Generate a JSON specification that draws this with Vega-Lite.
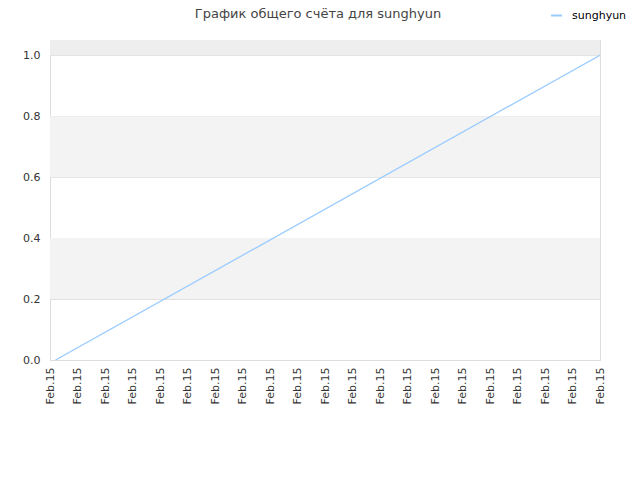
{
  "$schema": "https://vega.github.io/schema/vega-lite/v6.json",
  "width": 550,
  "height": 320,
  "autosize": "none",
  "padding": {"left": 50, "top": 40, "right": 40, "bottom": 120},
  "background": "white",
  "config": {
    "font": "DejaVu Sans",
    "view": {"stroke": "#dddddd"}
  },
  "title": {
    "text": "График общего счёта для sunghyun",
    "fontSize": 13,
    "fontWeight": "normal",
    "color": "#444444",
    "offset": 21,
    "dx": -7,
    "dy": 33
  },
  "datasets": {
    "bands": [
      {"lo": 0.2, "hi": 0.4, "kind": "band"},
      {"lo": 0.6, "hi": 0.8, "kind": "band"},
      {"lo": 1.0, "hi": 1.05, "kind": "top"}
    ],
    "score": [
      {"step": 0.2, "score": 0, "player": "sunghyun"},
      {"step": 20, "score": 1, "player": "sunghyun"}
    ]
  },
  "layer": [
    {
      "data": {"name": "bands"},
      "mark": {"type": "rect"},
      "encoding": {
        "y": {"field": "lo", "type": "quantitative", "scale": {"domain": [0, 1.05], "nice": false}},
        "y2": {"field": "hi"},
        "color": {
          "field": "kind",
          "type": "nominal",
          "scale": {"domain": ["band", "top"], "range": ["#f3f3f3", "#eeeeee"]},
          "legend": null
        }
      }
    },
    {
      "data": {"name": "score"},
      "mark": {"type": "line", "strokeWidth": 1.3, "clip": true},
      "encoding": {
        "x": {
          "field": "step",
          "type": "quantitative",
          "scale": {"domain": [0, 20], "nice": false},
          "axis": {
            "title": null,
            "values": [0,1,2,3,4,5,6,7,8,9,10,11,12,13,14,15,16,17,18,19,20],
            "labelExpr": "'Feb.15'",
            "labelAngle": -90,
            "labelAlign": "right",
            "labelBaseline": "middle",
            "labelFontSize": 11,
            "labelColor": "#333333",
            "labelPadding": 7,
            "ticks": false,
            "grid": false,
            "domainColor": "#dddddd",
            "labelOverlap": false
          }
        },
        "y": {
          "field": "score",
          "type": "quantitative",
          "scale": {"domain": [0, 1.05], "nice": false},
          "axis": {
            "title": null,
            "values": [0, 0.2, 0.4, 0.6, 0.8, 1.0],
            "format": ".1f",
            "labelFontSize": 11,
            "labelColor": "#333333",
            "labelPadding": 10,
            "ticks": false,
            "grid": true,
            "gridColor": "#e0e0e0",
            "domainColor": "#dddddd"
          }
        },
        "color": {
          "field": "player",
          "type": "nominal",
          "scale": {"domain": ["sunghyun"], "range": ["#99ccff"]},
          "legend": {
            "title": null,
            "orient": "none",
            "legendX": 500,
            "legendY": -31,
            "symbolType": "stroke",
            "symbolSize": 120,
            "symbolStrokeWidth": 2,
            "labelOffset": 9,
            "labelFontSize": 11,
            "labelColor": "#000000"
          }
        }
      }
    }
  ],
  "resolve": {"scale": {"color": "independent"}}
}
